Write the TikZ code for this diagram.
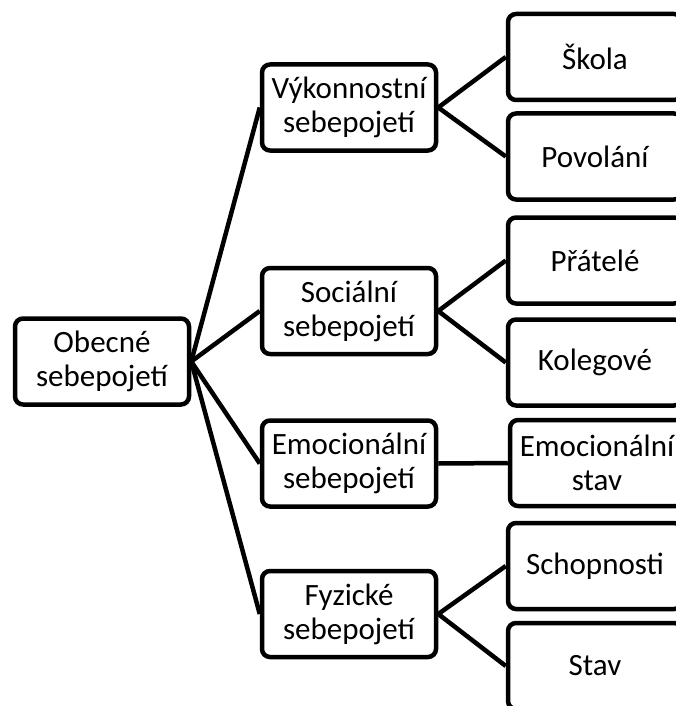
\documentclass[tikz,border=0pt]{standalone}
\usepackage{fontspec}
\setmainfont{Carlito}
\begin{document}
\begin{tikzpicture}[x=1pt, y=-1pt, font=\fontsize{31}{34}\selectfont,
  box/.style={draw=black, line width=4.5pt, rounded corners=8pt, fill=white, minimum width=174pt, minimum height=86pt, inner sep=2pt, align=center},
  link/.style={draw=black, line width=4.5pt}]
  \useasboundingbox (0,0) rectangle (676,706);
  \clip (0,0) rectangle (676,706);
  % level 1
  \node[box] (obecne) at (102,361.5) {Obecné\\sebepojetí};
  % level 2
  \node[box] (vykon) at (349,107.5) {Výkonnostní\\sebepojetí};
  \node[box] (social) at (349,311) {Sociální\\sebepojetí};
  \node[box] (emoc) at (349,463.5) {Emocionální\\sebepojetí};
  \node[box] (fyz) at (349,614) {Fyzické\\sebepojetí};
  % level 3
  \node[box] (skola) at (595,57) {Škola};
  \node[box] (povolani) at (595,156.5) {Povolání};
  \node[box] (pratele) at (595,260.5) {Přátelé};
  \node[box] (kolegove) at (595,362.5) {Kolegové};
  \node[box] (stav) at (597,463) {Emocionální\\stav};
  \node[box] (schop) at (595,566) {Schopnosti};
  \node[box] (fstav) at (595,666) {Stav};
  % links
  \foreach \n in {vykon,social,emoc,fyz}
    \draw[link] (obecne.east) -- (\n.west);
  \draw[link] (vykon.east) -- (skola.west);
  \draw[link] (vykon.east) -- (povolani.west);
  \draw[link] (social.east) -- (pratele.west);
  \draw[link] (social.east) -- (kolegove.west);
  \draw[link] (emoc.east) -- (stav.west);
  \draw[link] (fyz.east) -- (schop.west);
  \draw[link] (fyz.east) -- (fstav.west);
\end{tikzpicture}
\end{document}
